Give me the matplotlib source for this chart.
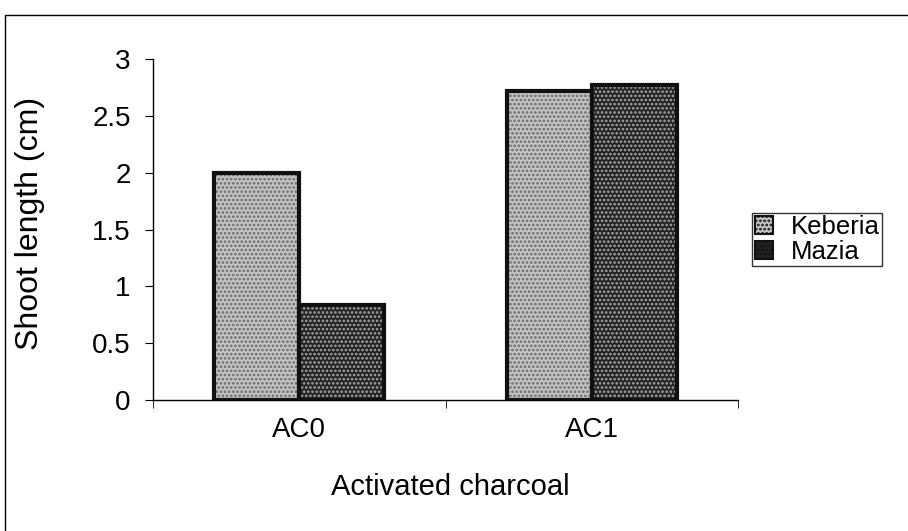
import matplotlib
matplotlib.use("Agg")
import matplotlib.pyplot as plt
import numpy as np

categories = ["AC0", "AC1"]
series_names = ["Keberia", "Mazia"]
keberia = [2.0, 2.72]
mazia = [0.84, 2.77]
yticks = [0, 0.5, 1, 1.5, 2, 2.5, 3]
ytick_labels = ["0", "0.5", "1", "1.5", "2", "2.5", "3"]

plt.rcParams['font.family'] = ['Liberation Sans', 'DejaVu Sans']
plt.rcParams['hatch.linewidth'] = 1.3

fig = plt.figure(figsize=(9.08, 5.31), dpi=100)
ax = fig.add_axes([0.1685, 0.2467, 0.6443, 0.642])

x = np.arange(len(categories))
w = 0.29
styles = [("#c4c4c4", "#6a6a6a"), ("#222222", "#a8a8a8")]
handles = []
for i, (vals, name) in enumerate(zip([keberia, mazia], series_names)):
    pos = x - w/2 + i*w
    fc, hc = styles[i]
    ax.bar(pos, vals, w, color=fc, edgecolor=hc, hatch="....", linewidth=0, zorder=2)
    ax.bar(pos, vals, w, facecolor="none", edgecolor="#111111", linewidth=3.0, zorder=3)
    h = plt.Rectangle((0, 0), 1, 1, facecolor=fc, edgecolor="#111111", hatch="....",
                      linewidth=1.5)
    handles.append(h)

ax.set_xlim(-0.5, 1.5)
ax.set_ylim(0, 3)
ax.set_yticks(yticks)
ax.set_yticklabels(ytick_labels)
ax.set_xticks(x)
ax.set_xticklabels(categories)
ax.set_xticks([-0.5, 0.5, 1.5], minor=True)
ax.tick_params(axis='x', which='major', length=0, pad=12, labelsize=20)
ax.tick_params(axis='x', which='minor', length=6, direction='out')
ax.tick_params(axis='y', length=6, direction='out', labelsize=20, pad=10)
for s in ["top", "right"]:
    ax.spines[s].set_visible(False)
ax.spines["left"].set_linewidth(1.0)
ax.spines["bottom"].set_linewidth(1.0)

ax.set_ylabel("Shoot length (cm)", fontsize=23)
ax.yaxis.set_label_coords(-0.184, 0.519)
ax.set_xlabel("Activated charcoal", fontsize=21)
ax.xaxis.set_label_coords(0.508, -0.215)

leg = ax.legend(handles, series_names, loc="upper left", bbox_to_anchor=(1.024, 0.55),
                fontsize=18.5, frameon=True, fancybox=False, edgecolor="black",
                handlelength=0.7, handleheight=0.7, handletextpad=0.7, borderpad=0.1,
                labelspacing=0.02, borderaxespad=0)
leg.get_frame().set_linewidth(1.0)

# outer border
fig.patches.append(plt.Rectangle((0.006, -0.01), 1.1, 0.982, transform=fig.transFigure,
                                 fill=False, edgecolor="black", linewidth=1.0))

fig.savefig("out.png", dpi=100)
